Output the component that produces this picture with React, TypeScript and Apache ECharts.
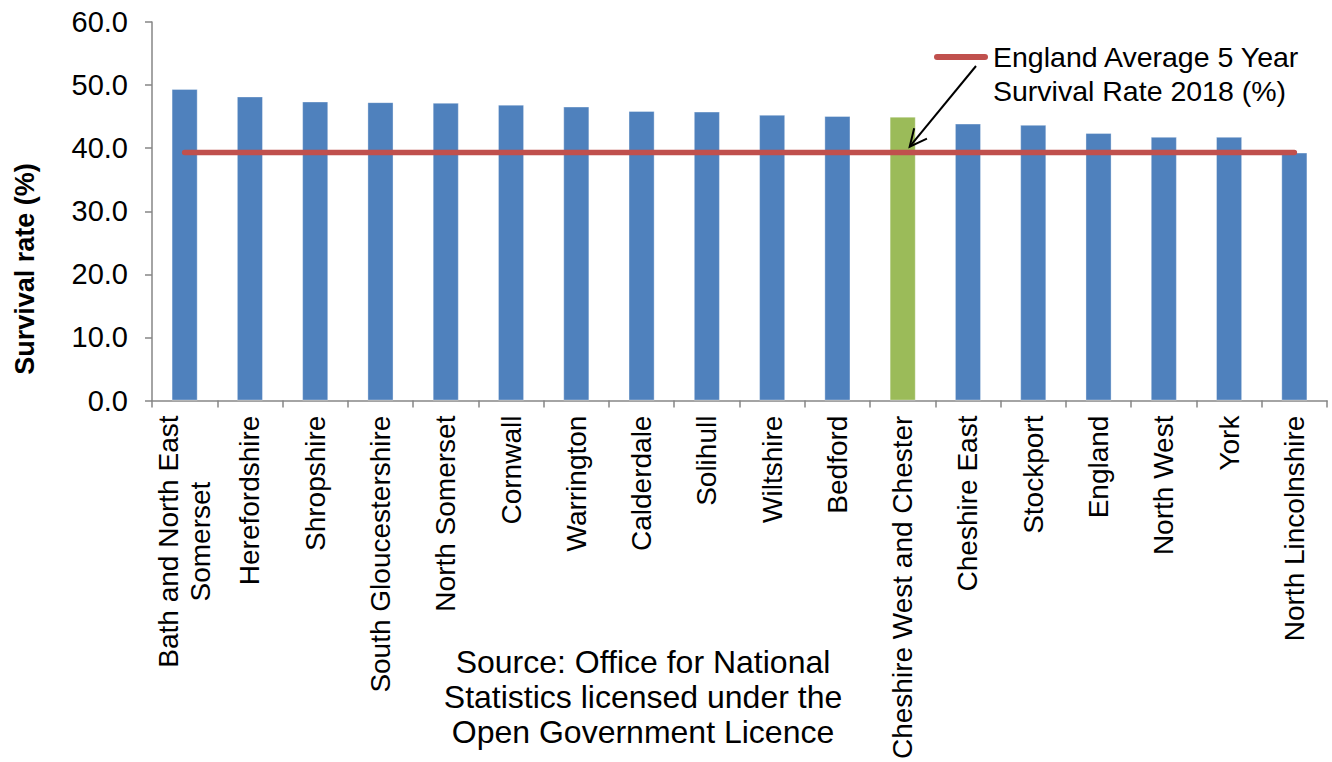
import React, { useEffect, useRef } from "react";
import * as echarts from "echarts";

const categories = [
  "Bath and North East\nSomerset",
  "Herefordshire",
  "Shropshire",
  "South Gloucestershire",
  "North Somerset",
  "Cornwall",
  "Warrington",
  "Calderdale",
  "Solihull",
  "Wiltshire",
  "Bedford",
  "Cheshire West and Chester",
  "Cheshire East",
  "Stockport",
  "England",
  "North West",
  "York",
  "North Lincolnshire",
];

const survivalRates = [
  49.4, 48.2, 47.4, 47.3, 47.2, 46.9, 46.6, 45.9, 45.8, 45.3, 45.1, 45.0, 43.9,
  43.7, 42.4, 41.8, 41.8, 39.3,
];

const englandAverage = 39.3;
const highlighted = "Cheshire West and Chester";

const yMin = 0;
const yMax = 60;
const yInterval = 10;

const barName = "Survival rate";
const averageName = "England Average 5 Year Survival Rate 2018 (%)";
const averageLegendLabel = "\nEngland Average 5 Year\nSurvival Rate 2018 (%)";
const yAxisTitle = "Survival rate (%)";
const sourceNote =
  "Source: Office for National\nStatistics licensed under the\nOpen Government Licence";

const FONT = "'Liberation Sans', Arial, sans-serif";
const BLUE = "#4F81BD";
const GREEN = "#9BBB59";
const RED = "#C0504D";
const AXIS = "#868686";

export default function App() {
  const ref = useRef<HTMLDivElement>(null);

  useEffect(() => {
    if (!ref.current) return;
    const chart = echarts.init(ref.current, undefined, { renderer: "svg" });

    const option: any = {
      animation: false,
      backgroundColor: "#ffffff",
      textStyle: { fontFamily: FONT, color: "#000" },
      grid: { left: 152, right: 5, top: 22, bottom: 360, containLabel: false },
      legend: {
        show: true,
        left: 934,
        top: 6,
        padding: 0,
        itemWidth: 54,
        itemHeight: 6,
        selectedMode: false,
        data: [
          {
            name: averageName,
            icon: "path://M3,0 L51,0 A3,3 0 0 1 51,6 L3,6 A3,3 0 0 1 3,0 Z",
            itemStyle: { color: RED },
          },
        ],
        formatter: () => averageLegendLabel,
        textStyle: {
          fontFamily: FONT,
          fontSize: 28.5,
          color: "#000",
          lineHeight: 34,
        },
      },
      xAxis: {
        type: "category",
        data: categories,
        boundaryGap: true,
        axisLine: { show: true, lineStyle: { color: AXIS, width: 1.5 } },
        axisTick: {
          show: true,
          interval: 0,
          length: 7,
          alignWithLabel: false,
          lineStyle: { color: AXIS, width: 1.5 },
        },
        splitLine: { show: false },
        axisLabel: {
          interval: 0,
          rotate: 90,
          margin: 15,
          fontFamily: FONT,
          fontSize: 28,
          color: "#000",
          lineHeight: 32,
          formatter: (v: string) =>
            v.includes("\n")
              ? v
                  .split("\n")
                  .map((l) => `{c|${l}}`)
                  .join("\n")
              : v,
          rich: {
            c: {
              width: 252,
              align: "center",
              fontFamily: FONT,
              fontSize: 28,
              color: "#000",
              lineHeight: 32,
            },
          },
        },
      },
      yAxis: {
        type: "value",
        min: yMin,
        max: yMax,
        interval: yInterval,
        axisLine: { show: true, lineStyle: { color: AXIS, width: 1.5 } },
        axisTick: {
          show: true,
          length: 7,
          inside: false,
          lineStyle: { color: AXIS, width: 1.5 },
        },
        splitLine: { show: false },
        axisLabel: {
          margin: 24,
          fontFamily: FONT,
          fontSize: 29,
          color: "#000",
          formatter: (v: number) => v.toFixed(1),
        },
      },
      series: [
        {
          name: barName,
          type: "bar",
          barWidth: "40%",
          data: survivalRates.map((v, i) => ({
            value: v,
            itemStyle: {
              color: categories[i] === highlighted ? GREEN : BLUE,
            },
          })),
          itemStyle: {
            borderColor: "rgba(255,255,255,0.35)",
            borderWidth: 1,
          },
          z: 2,
        },
        {
          name: averageName,
          type: "line",
          data: categories.map(() => englandAverage),
          symbol: "none",
          lineStyle: { color: RED, width: 5.5, cap: "round" },
          itemStyle: { color: RED },
          z: 3,
        },
      ],
    };

    chart.setOption(option);

    const tip = chart.convertToPixel({ xAxisIndex: 0, yAxisIndex: 0 }, [
      highlighted,
      englandAverage,
    ]) as number[];
    const tx = tip[0] + 7;
    const ty = tip[1] - 6;
    const sx = 976;
    const sy = 66;
    const ang = Math.atan2(ty - sy, tx - sx);
    const wing = 19;
    const spread = 0.45;
    const w1 = [tx - wing * Math.cos(ang - spread), ty - wing * Math.sin(ang - spread)];
    const w2 = [tx - wing * Math.cos(ang + spread), ty - wing * Math.sin(ang + spread)];

    chart.setOption({
      graphic: [
        {
          type: "line",
          shape: { x1: sx, y1: sy, x2: tx, y2: ty },
          style: { stroke: "#000", lineWidth: 2 },
          z: 10,
        },
        {
          type: "polyline",
          shape: { points: [w1, [tx, ty], w2] },
          style: { stroke: "#000", lineWidth: 2, fill: null },
          z: 10,
        },
        {
          type: "text",
          x: 25,
          y: 269,
          rotation: Math.PI / 2,
          style: {
            text: yAxisTitle,
            fontFamily: FONT,
            fontSize: 27,
            fontWeight: "bold",
            fill: "#000",
            align: "center",
            verticalAlign: "middle",
          },
        },
        {
          type: "text",
          x: 643,
          y: 697,
          style: {
            text: sourceNote,
            fontFamily: FONT,
            fontSize: 32,
            lineHeight: 35,
            fill: "#000",
            align: "center",
            verticalAlign: "middle",
          },
        },
      ],
    });

    return () => chart.dispose();
  }, []);

  return (
    <div
      ref={ref}
      style={{ position: "fixed", left: 0, top: 0, width: 1332, height: 762 }}
    />
  );
}
